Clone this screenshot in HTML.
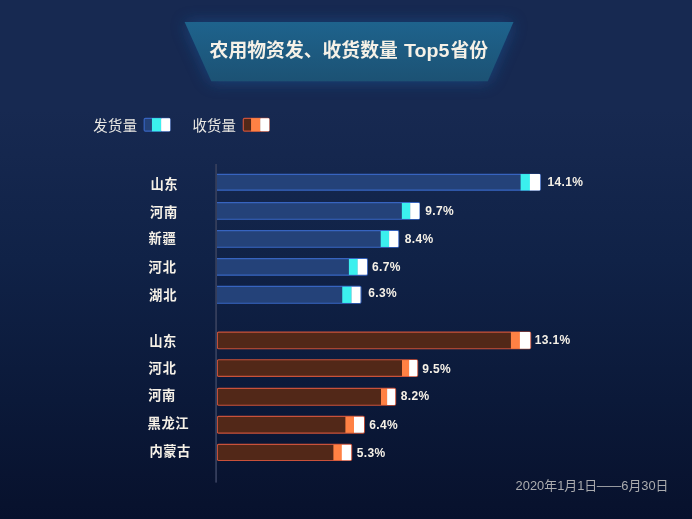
<!DOCTYPE html>
<html lang="zh-CN">
<head>
<meta charset="utf-8">
<title>农用物资发、收货数量 Top5省份</title>
<style>
html,body{margin:0;padding:0;}
body{width:692px;height:519px;overflow:hidden;position:relative;font-family:"Liberation Sans","Noto Sans CJK SC",sans-serif;background:#12244b;}
#bg{position:absolute;left:0;top:0;width:692px;height:519px;
 background:linear-gradient(180deg,#172951 0%,#172951 21%,#102247 50%,#0b1939 77%,#08122e 97%,#07112d 100%);}
svg{position:absolute;left:0;top:0;display:block;will-change:transform;}
text{font-family:"Liberation Sans","Noto Sans CJK SC",sans-serif;}
.val{font-weight:bold;font-size:12.0px;letter-spacing:0.38px;fill:#f6f1e7;}
.date{font-size:12.9px;fill:#aaabae;}
.cat{font-weight:bold;font-size:13.3px;fill:#f6f1e7;}
.leg{font-size:14.4px;fill:#ebe9e4;}
.ttl{font-weight:bold;font-size:18.8px;fill:#f6f1e7;}
</style>
</head>
<body>
<div id="bg"></div>
<svg id="chart" width="692" height="519" viewBox="0 0 692 519">
<defs>
<linearGradient id="tg" x1="0" y1="0" x2="0" y2="1"><stop offset="0" stop-color="#1e638d"/><stop offset="1" stop-color="#1c5274"/></linearGradient>
<filter id="glow" x="-20%" y="-80%" width="140%" height="260%"><feGaussianBlur stdDeviation="8"/></filter>
</defs>
<!-- title banner -->
<polygon points="184.6,22 513.5,22 487.8,81.2 211.3,81.2" transform="translate(0 0.8)" fill="#1a5a9c" opacity="0.6" filter="url(#glow)"/>
<polygon points="184.6,22 513.5,22 487.8,81.2 211.3,81.2" fill="url(#tg)"/>
<!-- shipped bars -->
<rect x="216.90" y="174.10" width="323.60" height="16.30" fill="#244279"/><path fill="none" stroke="#3764c0" stroke-width="1.15" d="M216.90 174.38H539.12Q540.32 174.38 540.32 175.57V188.93Q540.32 190.12 539.12 190.12H216.90"/><rect x="520.60" y="174.05" width="9.50" height="16.40" fill="#3bf0ee"/><path fill="#fff" d="M529.90 174.05H539.40Q540.20 174.05 540.20 174.85V189.65Q540.20 190.45 539.40 190.45H529.90Z"/><text class="val" x="547.4" y="186.10">14.1%</text>
<rect x="216.90" y="202.40" width="202.70" height="17.10" fill="#244279"/><path fill="none" stroke="#3764c0" stroke-width="1.15" d="M216.90 202.67H418.23Q419.43 202.67 419.43 203.87V218.03Q419.43 219.23 418.23 219.23H216.90"/><rect x="401.85" y="202.95" width="8.55" height="16.00" fill="#3bf0ee"/><path fill="#fff" d="M410.20 202.95H418.70Q419.50 202.95 419.50 203.75V218.15Q419.50 218.95 418.70 218.95H410.20Z"/><text class="val" x="425.2" y="214.95">9.7%</text>
<rect x="216.90" y="230.40" width="181.90" height="17.10" fill="#244279"/><path fill="none" stroke="#3764c0" stroke-width="1.15" d="M216.90 230.67H397.43Q398.62 230.67 398.62 231.87V246.03Q398.62 247.23 397.43 247.23H216.90"/><rect x="380.70" y="230.95" width="8.60" height="16.00" fill="#3bf0ee"/><path fill="#fff" d="M389.10 230.95H397.50Q398.30 230.95 398.30 231.75V246.15Q398.30 246.95 397.50 246.95H389.10Z"/><text class="val" x="404.8" y="242.95">8.4%</text>
<rect x="216.90" y="258.40" width="150.60" height="17.00" fill="#244279"/><path fill="none" stroke="#3764c0" stroke-width="1.15" d="M216.90 258.68H366.12Q367.32 258.68 367.32 259.88V273.93Q367.32 275.12 366.12 275.12H216.90"/><rect x="348.90" y="258.95" width="8.95" height="15.90" fill="#3bf0ee"/><path fill="#fff" d="M357.65 258.95H366.30Q367.10 258.95 367.10 259.75V274.05Q367.10 274.85 366.30 274.85H357.65Z"/><text class="val" x="372.0" y="270.50">6.7%</text>
<rect x="216.90" y="286.10" width="144.20" height="17.40" fill="#244279"/><path fill="none" stroke="#3764c0" stroke-width="1.15" d="M216.90 286.38H359.73Q360.93 286.38 360.93 287.57V302.03Q360.93 303.23 359.73 303.23H216.90"/><rect x="342.25" y="286.65" width="9.45" height="16.30" fill="#3bf0ee"/><path fill="#fff" d="M351.50 286.65H359.70Q360.50 286.65 360.50 287.45V302.15Q360.50 302.95 359.70 302.95H351.50Z"/><text class="val" x="368.2" y="297.40">6.3%</text>
<!-- received bars -->
<rect x="217.38" y="332.07" width="313.25" height="16.65" rx="1.2" fill="#522818" stroke="#c9513a" stroke-width="1.15"/><rect x="510.90" y="332.00" width="9.20" height="16.80" fill="#ff8144"/><path fill="#fff" d="M519.90 332.00H529.50Q530.30 332.00 530.30 332.80V348.00Q530.30 348.80 529.50 348.80H519.90Z"/><text class="val" x="534.7" y="344.40">13.1%</text>
<rect x="217.38" y="359.77" width="200.25" height="16.65" rx="1.2" fill="#522818" stroke="#c9513a" stroke-width="1.15"/><rect x="402.00" y="360.05" width="7.30" height="16.10" fill="#ff8144"/><path fill="#fff" d="M409.10 360.05H416.50Q417.30 360.05 417.30 360.85V375.35Q417.30 376.15 416.50 376.15H409.10Z"/><text class="val" x="422.3" y="372.70">9.5%</text>
<rect x="217.38" y="388.38" width="178.20" height="16.85" rx="1.2" fill="#522818" stroke="#c9513a" stroke-width="1.15"/><rect x="381.00" y="388.65" width="6.30" height="16.30" fill="#ff8144"/><path fill="#fff" d="M387.10 388.65H394.40Q395.20 388.65 395.20 389.45V404.15Q395.20 404.95 394.40 404.95H387.10Z"/><text class="val" x="400.8" y="399.50">8.2%</text>
<rect x="217.38" y="416.38" width="146.95" height="16.75" rx="1.2" fill="#522818" stroke="#c9513a" stroke-width="1.15"/><rect x="345.40" y="416.65" width="8.80" height="16.20" fill="#ff8144"/><path fill="#fff" d="M354.00 416.65H363.20Q364.00 416.65 364.00 417.45V432.05Q364.00 432.85 363.20 432.85H354.00Z"/><text class="val" x="369.3" y="428.75">6.4%</text>
<rect x="217.38" y="444.38" width="134.25" height="16.15" rx="1.2" fill="#522818" stroke="#c9513a" stroke-width="1.15"/><rect x="333.40" y="444.65" width="8.60" height="15.60" fill="#ff8144"/><path fill="#fff" d="M341.80 444.65H350.40Q351.20 444.65 351.20 445.45V459.45Q351.20 460.25 350.40 460.25H341.80Z"/><text class="val" x="356.8" y="457.45">5.3%</text>
<rect x="215.15" y="164" width="1.85" height="318.6" fill="#343d5b"/>
<rect x="144.20" y="118.30" width="25.80" height="12.90" rx="1.2" fill="#244279" stroke="#3764c0" stroke-width="1.2"/><rect x="151.95" y="118.15" width="9.3" height="13.20" fill="#3bf0ee"/><rect x="161.10" y="118.15" width="9.1" height="13.20" rx="0.8" fill="#fff"/>
<rect x="243.30" y="118.30" width="25.80" height="12.90" rx="1.2" fill="#522818" stroke="#c9513a" stroke-width="1.2"/><rect x="251.05" y="118.15" width="9.3" height="13.20" fill="#ff8144"/><rect x="260.20" y="118.15" width="9.1" height="13.20" rx="0.8" fill="#fff"/>
<!-- title text -->
<text class="ttl" x="209.6" y="57.2" textLength="188.2" lengthAdjust="spacing">农用物资发、收货数量</text>
<text x="403.9" y="57.2" font-weight="bold" font-size="19" fill="#f6f1e7" textLength="45.5" lengthAdjust="spacingAndGlyphs">Top5</text>
<text class="ttl" x="450.4" y="57.2" textLength="37.6" lengthAdjust="spacing">省份</text>
<!-- legend -->
<text class="leg" x="93.2" y="130.7" textLength="43.9" lengthAdjust="spacing">发货量</text>
<text class="leg" x="192.4" y="130.7" textLength="43.5" lengthAdjust="spacing">收货量</text>
<!-- category labels -->
<text class="cat" x="150.6" y="189.0" textLength="27" lengthAdjust="spacing">山东</text>
<text class="cat" x="150.1" y="217.0" textLength="27.2" lengthAdjust="spacing">河南</text>
<text class="cat" x="148.6" y="243.2" textLength="27.3" lengthAdjust="spacing">新疆</text>
<text class="cat" x="148.4" y="271.6" textLength="27.6" lengthAdjust="spacing">河北</text>
<text class="cat" x="149.0" y="299.7" textLength="27.6" lengthAdjust="spacing">湖北</text>
<text class="cat" x="149.2" y="345.7" textLength="27" lengthAdjust="spacing">山东</text>
<text class="cat" x="148.4" y="372.6" textLength="27.6" lengthAdjust="spacing">河北</text>
<text class="cat" x="148.2" y="399.8" textLength="27.2" lengthAdjust="spacing">河南</text>
<text class="cat" x="147.6" y="427.9" textLength="41" lengthAdjust="spacing">黑龙江</text>
<text class="cat" x="149.4" y="456.1" textLength="40.8" lengthAdjust="spacing">内蒙古</text>
<!-- date -->
<text class="date" x="515.60" y="490.4" textLength="28.64" lengthAdjust="spacingAndGlyphs">2020</text>
<text class="date" x="544.24" y="490.4">年</text>
<text class="date" x="557.14" y="490.4" textLength="7.16" lengthAdjust="spacingAndGlyphs">1</text>
<text class="date" x="564.30" y="490.4">月</text>
<text class="date" x="577.20" y="490.4" textLength="7.16" lengthAdjust="spacingAndGlyphs">1</text>
<text class="date" x="584.36" y="490.4">日</text>
<text class="date" x="596.66" y="490.4" textLength="24.57" lengthAdjust="spacingAndGlyphs">——</text>
<text class="date" x="621.22" y="490.4" textLength="7.16" lengthAdjust="spacingAndGlyphs">6</text>
<text class="date" x="628.38" y="490.4">月</text>
<text class="date" x="641.28" y="490.4" textLength="14.32" lengthAdjust="spacingAndGlyphs">30</text>
<text class="date" x="655.60" y="490.4">日</text>
</svg>
</body>
</html>
